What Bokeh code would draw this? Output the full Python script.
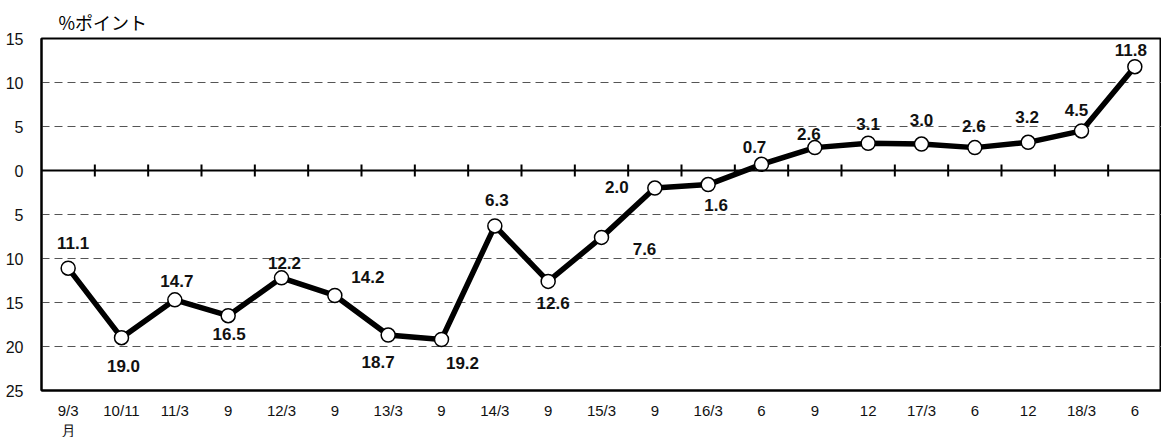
from bokeh.plotting import figure
from bokeh.models import Span, FixedTicker, ColumnDataSource
from bokeh.core.properties import value
from bokeh.embed import file_html
from bokeh.resources import INLINE
import math

# ---- data ----
categories = ["9/3\n月", "10/11", "11/3", "9", "12/3", "9", "13/3", "9", "14/3", "9",
              "15/3", "9", "16/3", "6", "9", "12", "17/3", "6", "12", "18/3", "6"]
values = [-11.1, -19.0, -14.7, -16.5, -12.2, -14.2, -18.7, -19.2, -6.3, -12.6,
          -7.6, -2.0, -1.6, 0.7, 2.6, 3.1, 3.0, 2.6, 3.2, 4.5, 11.8]
y_ticks = [-25, -20, -15, -10, -5, 0, 5, 10, 15]
y_tick_labels = ["25", "20", "15", "10", "5", "0", "5", "10", "15"]
unit_label = "%ポイント"

# ---- label placement (screen pixel offsets, style) ----
label_dx = [5, 2, 2, 1, 3, 33, -10, 21, 2, 5, 43, -38, 8, -7, -6, 0, 0, -1, -1, -5, -4]
label_dy = [-25, 28, -19, 18, -15, -18, 27, 24, -26, 22, 12, -1, 20, -17, -14, -19, -24, -22, -25, -21, -17]

xs = list(range(len(values)))
src = ColumnDataSource(dict(
    x=xs, y=values,
    lab=[f"{abs(v):.1f}" for v in values],
    dx=label_dx, dy=label_dy,
))

p = figure(frame_width=1120, frame_height=352,
           x_range=(-0.5, len(values) - 0.5), y_range=(-25, 15),
           output_backend="svg", toolbar_location=None,
           min_border_left=41, min_border_right=0, min_border_top=38, min_border_bottom=47)

p.title.text = unit_label
p.title.align = "left"
p.title.offset = 17
p.title.text_font = "Noto Sans CJK JP"
p.title.text_font_size = "18px"
p.title.text_font_style = "normal"
p.title.text_color = "#000000"
p.title.standoff = 7

p.outline_line_color = "black"
p.outline_line_width = 2
p.background_fill_color = "white"
p.border_fill_color = "white"

p.xgrid.visible = False
p.ygrid.ticker = FixedTicker(ticks=[t for t in y_ticks if t not in (0, y_ticks[0], y_ticks[-1])])
p.ygrid.grid_line_color = "#555555"
p.ygrid.grid_line_dash = "8 5"
p.ygrid.grid_line_width = 1

# axes
p.xaxis.ticker = FixedTicker(ticks=xs)
p.xaxis.major_label_overrides = {i: c for i, c in enumerate(categories)}
p.xaxis.major_tick_line_color = None
p.xaxis.minor_tick_line_color = None
p.xaxis.axis_line_color = "black"
p.xaxis.axis_line_width = 2
p.xaxis.major_label_text_font = "Liberation Sans"
p.xaxis.major_label_text_font_size = "15px"
p.xaxis.major_label_text_color = "#111111"
p.xaxis.major_label_standoff = 5

p.yaxis.ticker = FixedTicker(ticks=y_ticks)
p.yaxis.major_label_overrides = {t: l for t, l in zip(y_ticks, y_tick_labels)}
p.yaxis.major_tick_line_color = None
p.yaxis.minor_tick_line_color = None
p.yaxis.axis_line_color = "black"
p.yaxis.axis_line_width = 2
p.yaxis.major_label_text_font = "Liberation Sans"
p.yaxis.major_label_text_font_size = "16px"
p.yaxis.major_label_text_color = "#111111"
p.yaxis.major_label_standoff = 12

# zero line and tick marks
p.add_layout(Span(location=0, dimension="width", line_color="black", line_width=2))
bx = [i + 0.5 for i in xs[:-1]]
p.scatter(bx, [0] * len(bx), marker="dash", angle=math.pi / 2, size=12,
          line_color="black", line_width=2)

# series
p.line("x", "y", source=src, line_color="black", line_width=5.5, line_join="round")
p.scatter("x", "y", source=src, size=14, fill_color="white", line_color="black", line_width=1.5)
p.text("x", "y", text="lab", source=src, x_offset="dx", y_offset="dy",
       text_align="center", text_baseline="middle",
       text_font=value("Liberation Sans"), text_font_style="bold",
       text_font_size="17px", text_color="#111111")

open("out.html", "w").write(file_html(p, INLINE))
